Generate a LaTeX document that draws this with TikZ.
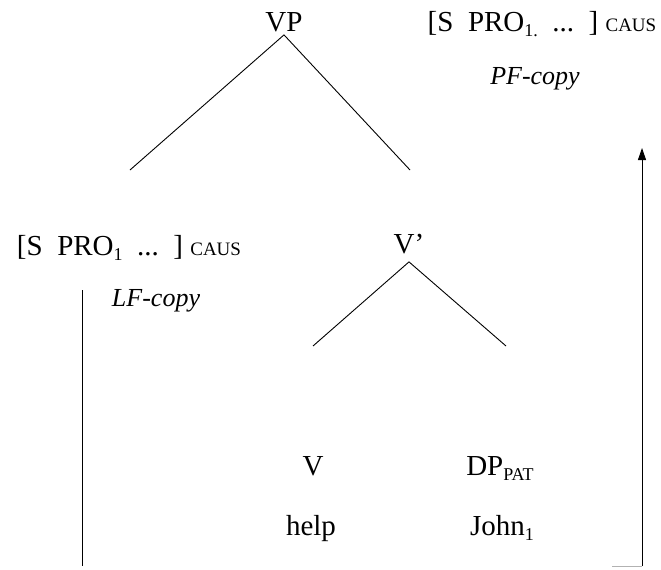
\documentclass[tikz,border=0pt]{standalone}
\usepackage{fontspec}
\setmainfont{Liberation Serif}
\usetikzlibrary{arrows.meta,positioning}
\newcommand{\lowsub}[1]{\raisebox{-5pt}{\fontsize{18}{18}\selectfont #1}}
\newcommand{\caus}{\ {\fontsize{19}{19}\selectfont CAUS}}
\newcommand{\bracket}[1]{[S\ \ PRO\lowsub{#1}\ \ ...\ \ ]\caus}

\begin{document}
\begin{tikzpicture}[x=1pt,y=-1pt,line width=0.9pt,
  lbl/.style={inner sep=0pt,anchor=base,font=\fontsize{29}{31}\selectfont},
  copylbl/.style={lbl,font=\fontsize{26}{28}\selectfont\itshape}]
  \useasboundingbox (0,0) rectangle (661,570);
  \node[lbl] (vp) at (284,31) {VP};
  \node[lbl] (spro2) at (542,31) {\bracket{1.}};
  \node[copylbl] (pf) at (535,84) {PF-copy};
  \node[lbl] (spro1) at (129,255) {\bracket{1}};
  \node[lbl] (vbar) at (409,253) {V'};
  \node[copylbl] (lf) at (156,306) {LF-copy};
  \node[lbl] (v) at (313,475) {V};
  \node[lbl] (dp) at (500,475) {DP\lowsub{PAT}};
  \node[lbl] (help) at (311,535) {help};
  \node[lbl] (john) at (502,535) {John\lowsub{1}};
  \coordinate (vpL) at (130,170);
  \coordinate (vpR) at (410,170);
  \coordinate (vbarL) at (313,346);
  \coordinate (vbarR) at (506,346);
  \coordinate (lfTop) at (82,290);
  \coordinate (lfFoot) at (82,566);
  \coordinate (pfFoot) at (642,566);
  \coordinate (pfHead) at (642,148);
  \draw (vpL) -- ([yshift=-3pt]vp.south) -- (vpR);
  \draw (vbarL) -- ([yshift=-8pt]vbar.south) -- (vbarR);
  \draw (lfTop) -- (lfFoot);
  \draw[-{Triangle[length=12pt,width=8pt]}] (pfFoot) -- (pfHead);
  \draw[line width=0.5pt,gray!60] ([xshift=-30pt]pfFoot) -- (pfFoot);
\end{tikzpicture}
\end{document}
